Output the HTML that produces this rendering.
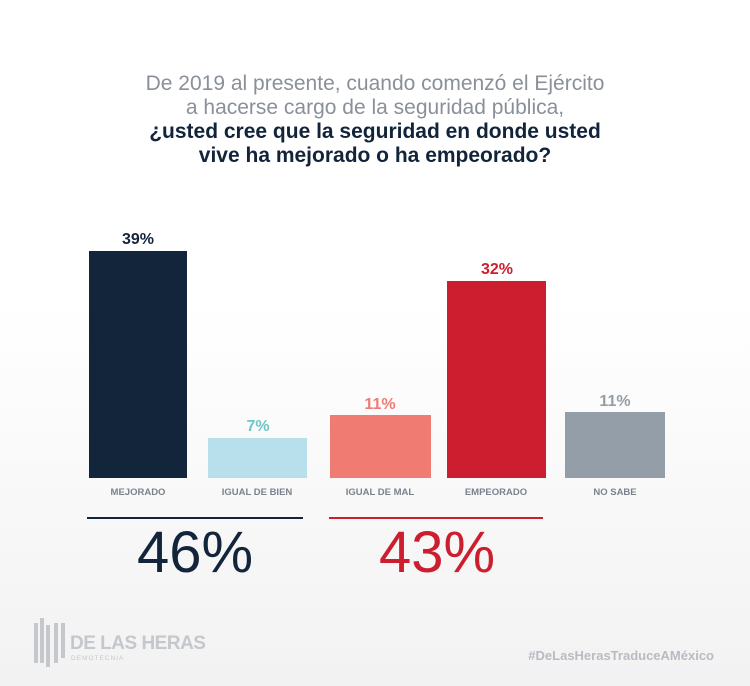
<!DOCTYPE html><html><head><style>
body{margin:0}
#c{position:relative;width:750px;height:686px;overflow:hidden;background:linear-gradient(#fff 0,#fff 300px,#f2f2f3 686px);font-family:"Liberation Sans",sans-serif}
.t{position:absolute;left:0;width:750px;text-align:center;font-size:21px;line-height:24px}
.b{position:absolute}
.v{position:absolute;font-size:16px;font-weight:bold;text-align:center;width:100px}
.l{position:absolute;top:487px;font-size:9.5px;font-weight:bold;color:#7a828d;text-align:center;width:120px}
</style></head><body><div id="c">
<div class="t" style="top:72px;color:#8a9099">De 2019 al presente, cuando comenzó el Ejército<br>a hacerse cargo de la seguridad pública,</div>
<div class="t" style="top:120px;color:#12243a;font-weight:bold">¿usted cree que la seguridad en donde usted<br>vive ha mejorado o ha empeorado?</div>
<div class="b" style="left:89px;top:251px;width:98px;height:227px;background:#12253b"></div>
<div class="b" style="left:208px;top:438px;width:99px;height:40px;background:#b8dfec"></div>
<div class="b" style="left:330px;top:415px;width:101px;height:63px;background:#f07b72"></div>
<div class="b" style="left:447px;top:281px;width:99px;height:197px;background:#cc1e2f"></div>
<div class="b" style="left:565px;top:412px;width:100px;height:66px;background:#949ea8"></div>
<div class="v" style="left:88px;top:231px;color:#12253b">39%</div>
<div class="v" style="left:208px;top:418px;color:#6fc6c6">7%</div>
<div class="v" style="left:330px;top:396px;color:#f07b72">11%</div>
<div class="v" style="left:447px;top:261px;color:#cc1e2f">32%</div>
<div class="v" style="left:565px;top:393px;color:#949ea8">11%</div>
<div class="l" style="left:78px">MEJORADO</div>
<div class="l" style="left:197px">IGUAL DE BIEN</div>
<div class="l" style="left:320px">IGUAL DE MAL</div>
<div class="l" style="left:436px">EMPEORADO</div>
<div class="l" style="left:555px">NO SABE</div>
<div class="b" style="left:87px;top:517px;width:216px;height:2px;background:#12253b"></div>
<div class="b" style="left:329px;top:517px;width:214px;height:2px;background:#cc1e2f"></div>
<div class="b" style="left:95px;top:520px;width:200px;text-align:center;font-size:58px;color:#12253b;line-height:66px">46%</div>
<div class="b" style="left:337px;top:520px;width:200px;text-align:center;font-size:58px;color:#cc1e2f;line-height:66px">43%</div>
<svg class="b" style="left:32px;top:615px" width="36" height="55"><g fill="#c4c7cb"><rect x="2" y="8" width="4" height="40"/><rect x="8" y="3" width="4" height="45"/><rect x="14" y="10" width="4" height="42"/><rect x="22" y="8" width="4" height="40"/><rect x="29" y="8" width="4" height="35"/></g></svg>
<div class="b" style="left:70px;top:633px;font-size:19px;font-weight:bold;color:#c4c7cb;line-height:22px;letter-spacing:-0.5px">DE LAS HERAS</div>
<div class="b" style="left:71px;top:655px;font-size:6.5px;color:#c4c7cb;letter-spacing:1px">DEMOTECNIA</div>
<div class="b" style="right:36px;top:648px;font-size:13px;font-weight:bold;color:#b8bcc2">#DeLasHerasTraduceAMéxico</div>
</div></body></html>
